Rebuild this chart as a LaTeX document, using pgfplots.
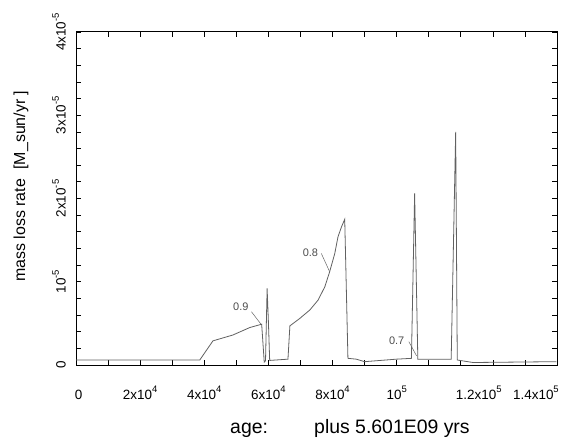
\documentclass[border=0pt]{standalone}
\usepackage{pgfplots}
\pgfplotsset{compat=1.18}
\usepackage{fontspec}
\setmainfont{Liberation Sans}
\newcommand{\tl}[2]{\mbox{\fontsize{13.5}{13.5}\selectfont #1\raisebox{6.8bp}{\fontsize{9.5}{9.5}\selectfont #2}}}
\pgfplotstableread{
x y
0 0.06e-5
38600 0.06e-5
42700 0.29e-5
48900 0.36e-5
54200 0.45e-5
57900 0.49e-5
58700 0.036e-5
59100 0.05e-5
59600 0.92e-5
60000 0.52e-5
60400 0.055e-5
66100 0.07e-5
66700 0.47e-5
69800 0.56e-5
72900 0.66e-5
75500 0.78e-5
77600 0.94e-5
79100 1.12e-5
80700 1.34e-5
81700 1.54e-5
82800 1.66e-5
83800 1.75e-5
84800 0.08e-5
87400 0.07e-5
90000 0.04e-5
99900 0.07e-5
104600 0.08e-5
105600 2.06e-5
106600 0.07e-5
117000 0.07e-5
118400 2.80e-5
118900 0.06e-5
123800 0.03e-5
149800 0.04e-5
}\massloss
\begin{document}
\begin{tikzpicture}
\path[use as bounding box] (0,0) rectangle (570bp,438bp);
\begin{axis}[
  at={(76bp,73bp)}, anchor=south west,
  width=481bp, height=333bp, scale only axis,
  xmin=0, xmax=150000, ymin=0, ymax=4e-5,
  xtick={0,20000,40000,60000,80000,100000,120000,140000},
  xticklabels={\hspace*{5bp}\tl{0}{},\tl{2x10}{4},\tl{4x10}{4},\tl{6x10}{4},\tl{8x10}{4},\tl{10}{5},\hspace*{36bp}\tl{1.2x10}{5},\hspace*{22bp}\tl{1.4x10}{5}},
  ytick={0,1e-5,2e-5,3e-5,4e-5},
  yticklabels={\tl{0}{},\tl{10}{-5},\tl{2x10}{-5},\tl{3x10}{-5},\tl{4x10}{-5}},
  minor x tick num=1, minor y tick num=4,
  tick align=inside, major tick length=5bp, minor tick length=5bp,
  scaled x ticks=false, scaled y ticks=false,
  tick style={black, line width=0.7bp},
  axis line style={black, line width=1bp},
  xticklabel style={anchor=base, yshift=-34bp, inner sep=0pt},
  yticklabel style={rotate=90, anchor=south, inner sep=0pt},
  yticklabel shift=10bp,
]
\addplot[color=black!62, line width=0.8bp, mark=none] table[x=x, y=y] {\massloss};
\node[text=black!70, font=\fontsize{11}{11}\selectfont] at (axis cs:51400,0.70e-5) {0.9};
\draw[black!60, line width=0.5bp] (axis cs:54700,0.64e-5) -- (axis cs:57900,0.48e-5);
\node[text=black!70, font=\fontsize{11}{11}\selectfont] at (axis cs:73100,1.35e-5) {0.8};
\draw[black!60, line width=0.5bp] (axis cs:76500,1.34e-5) -- (axis cs:79100,1.12e-5);
\node[text=black!70, font=\fontsize{11}{11}\selectfont] at (axis cs:100000,0.29e-5) {0.7};
\draw[black!60, line width=0.5bp] (axis cs:103800,0.28e-5) -- (axis cs:106200,0.11e-5);
\end{axis}
\node[anchor=base west, inner sep=0pt, font=\fontsize{19.5}{20}\selectfont] at (230bp,5bp) {age:};
\node[anchor=base west, inner sep=0pt, font=\fontsize{19.5}{20}\selectfont] at (314bp,5bp) {plus 5.601E09 yrs};
\node[rotate=90, anchor=base west, inner sep=0pt, font=\fontsize{16}{16}\selectfont] at (25bp,156bp) {mass loss rate\hspace{0.6em}[M\_sun/yr ]};
\end{tikzpicture}
\end{document}
